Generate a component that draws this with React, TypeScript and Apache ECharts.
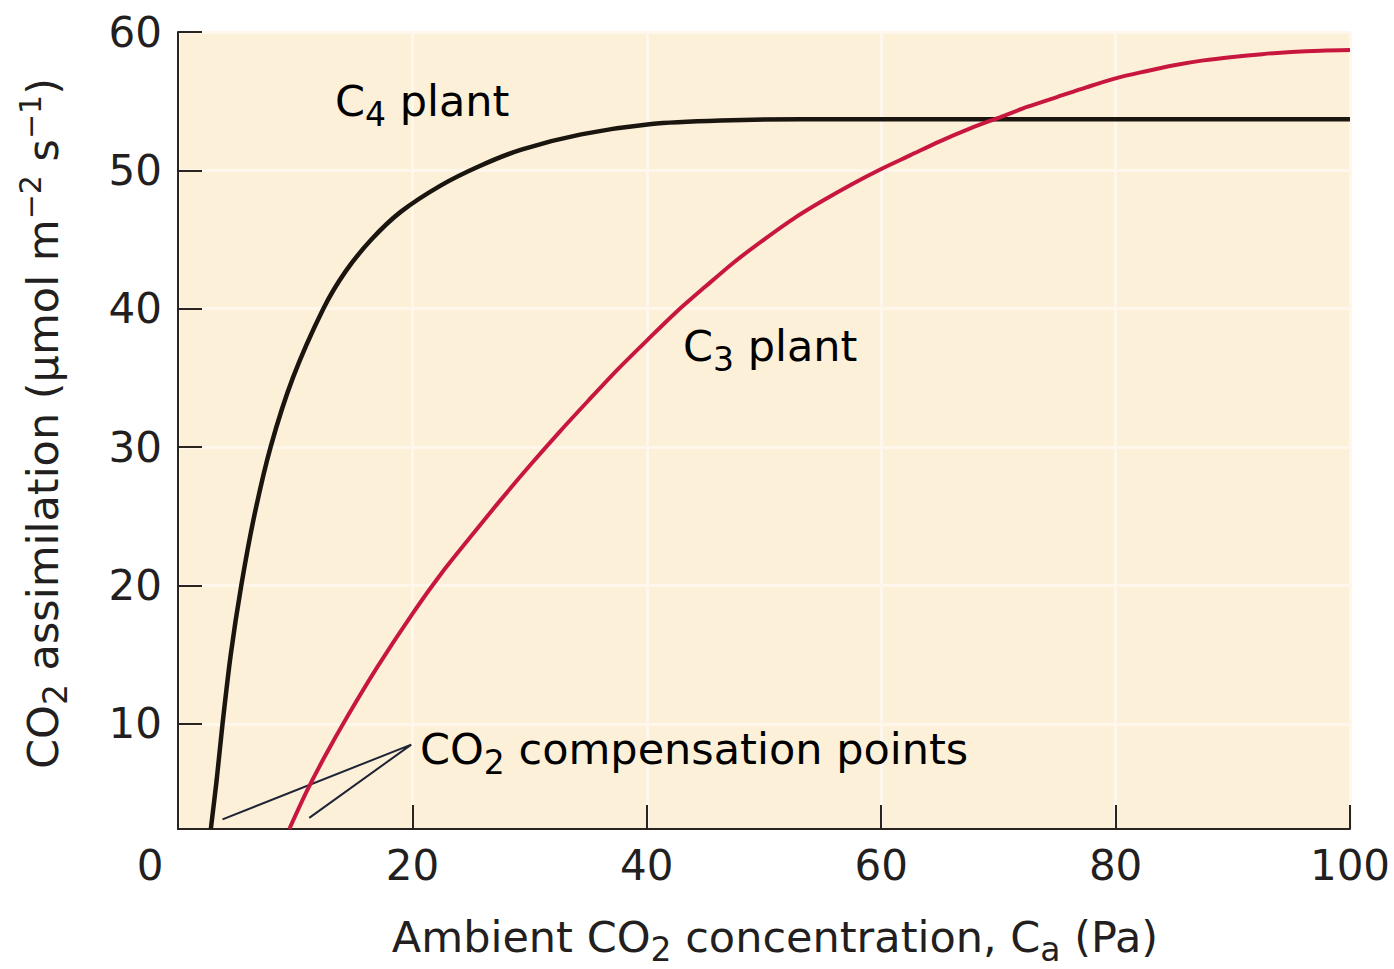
import React, { useEffect, useRef } from "react";
import * as echarts from "echarts";

// ---- data ----
const xTickValues = [0, 20, 40, 60, 80, 100];
const yTickValues = [10, 20, 30, 40, 50, 60];

// C4 plant: [ambient CO2 (Pa), assimilation]
const c4Curve: [number, number][] = [
  [2.8, 2.4], [3.3, 5.95], [3.8, 10], [4.5, 15], [5.4, 20], [6.5, 25], [7.9, 30],
  [9.8, 35], [12.4, 40], [14.3, 42.7], [16.5, 45], [19, 47], [22.4, 48.9],
  [25.7, 50.3], [29.3, 51.5], [34.4, 52.6], [40.4, 53.35], [46.3, 53.6],
  [53.2, 53.7], [60, 53.7], [70, 53.7], [80, 53.7], [90, 53.7], [100, 53.7],
];

// C3 plant
const c3Curve: [number, number][] = [
  [9.5, 2.4], [11, 5.15], [12.5, 7.6], [14.5, 10.6], [17, 14.1], [20, 17.95],
  [22.5, 20.9], [25, 23.55], [27.5, 26.15], [30, 28.65], [32.5, 31.05], [35, 33.35],
  [37.5, 35.6], [40, 37.7], [42.5, 39.75], [45, 41.6], [47.5, 43.4], [50, 45.0],
  [52.5, 46.5], [55, 47.8], [57.5, 49.0], [60, 50.1], [62.5, 51.1], [65, 52.1],
  [67.5, 53.0], [70, 53.8], [72.5, 54.6], [75, 55.3], [77.5, 56.0], [80, 56.65],
  [82.5, 57.15], [85, 57.6], [87.5, 57.95], [90, 58.2], [92.5, 58.4], [95, 58.55],
  [97.5, 58.65], [100, 58.7],
];

// leader lines to the two compensation points
const leaderLine: [number, number][] = [[3.8, 3.1], [19.9, 8.5], [11.2, 3.2]];

const FONT = "DejaVu Sans";
const TXT = "#231f20";

export default function App() {
  const ref = useRef<HTMLDivElement>(null);
  useEffect(() => {
    if (!ref.current) return;
    const chart = echarts.init(ref.current, null, { renderer: "svg" });
    const m = { fontSize: 43, fontFamily: FONT, color: TXT };
    const sub = { fontSize: 33, fontFamily: FONT, color: TXT, padding: [26, 0, 0, 0] };
    const sup = { fontSize: 30, fontFamily: FONT, color: TXT, padding: [0, 0, 24, 0] };
    chart.setOption({
      animation: false,
      backgroundColor: "#ffffff",
      grid: {
        left: 178, right: 44, top: 32, bottom: 140,
        outerBoundsMode: "none",
        containLabel: false,
        show: true, backgroundColor: "#fdf0d9", borderWidth: 0,
      },
      xAxis: {
        type: "value", min: 0, max: 100, interval: 20,
        axisLine: { show: true, onZero: false, lineStyle: { color: "#2a2420", width: 2 } },
        axisTick: { show: true, inside: true, length: 24, lineStyle: { color: "#2a2420", width: 2 } },
        axisLabel: {
          margin: 15, fontSize: 42, fontFamily: FONT, color: TXT,
          formatter: (v: number) => (v === 0 ? "{z|0}" : String(v)),
          rich: { z: { fontSize: 42, fontFamily: FONT, color: TXT, padding: [0, 56, 0, 0] } },
          customValues: xTickValues,
        },
        splitLine: { show: true, lineStyle: { color: "#fff7ec", width: 3 } },
        name: "{m|Ambient CO}{s|2}{m| concentration, C}{s|a}{m| (Pa)}",
        nameLocation: "middle",
        nameGap: 78,
        nameTextStyle: { rich: { m, s: sub }, padding: [0, 0, 0, 22] },
      },
      yAxis: {
        type: "value", min: 2.4, max: 60,
        axisLine: { show: true, onZero: false, lineStyle: { color: "#2a2420", width: 2 } },
        axisTick: {
          show: true, inside: true, length: 24, customValues: yTickValues,
          lineStyle: { color: "#2a2420", width: 2 },
        },
        axisLabel: {
          margin: 16, fontSize: 42, fontFamily: FONT, color: TXT,
          customValues: yTickValues,
        },
        splitLine: { show: true, lineStyle: { color: "#fff7ec", width: 3 } },
        name: "{m|CO}{s|2}{m| assimilation (µmol m}{p|−2}{m| s}{p|−1}{m|)}",
        nameLocation: "middle",
        nameRotate: 90,
        nameGap: 106,
        nameTextStyle: { rich: { m, s: sub, p: sup }, padding: [0, 0, 0, 14] },
      },
      series: [
        {
          name: "leader", type: "line", data: leaderLine, symbol: "none", z: 2,
          lineStyle: { color: "#1e2436", width: 2 }, silent: true,
        },
        {
          name: "C4 plant", type: "line", data: c4Curve, symbol: "none", smooth: 0.25, z: 3,
          lineStyle: { color: "#1b1510", width: 4.5 }, silent: true,
        },
        {
          name: "C3 plant", type: "line", data: c3Curve, symbol: "none", smooth: 0.3, z: 3,
          lineStyle: { color: "#c8173f", width: 4 }, silent: true,
        },
      ],
      graphic: [
        {
          type: "text", x: 335, y: 101, z: 10,
          style: { text: "{m|C}{s|4}{m| plant}", rich: { m, s: sub }, verticalAlign: "middle", align: "left" },
        },
        {
          type: "text", x: 683, y: 346, z: 10,
          style: { text: "{m|C}{s|3}{m| plant}", rich: { m, s: sub }, verticalAlign: "middle", align: "left" },
        },
        {
          type: "text", x: 420, y: 749, z: 10,
          style: { text: "{m|CO}{s|2}{m| compensation points}", rich: { m, s: sub }, verticalAlign: "middle", align: "left" },
        },
      ],
    });
    return () => chart.dispose();
  }, []);
  return (
    <div
      ref={ref}
      style={{ position: "fixed", left: 0, top: 0, width: 1394, height: 969 }}
    />
  );
}
